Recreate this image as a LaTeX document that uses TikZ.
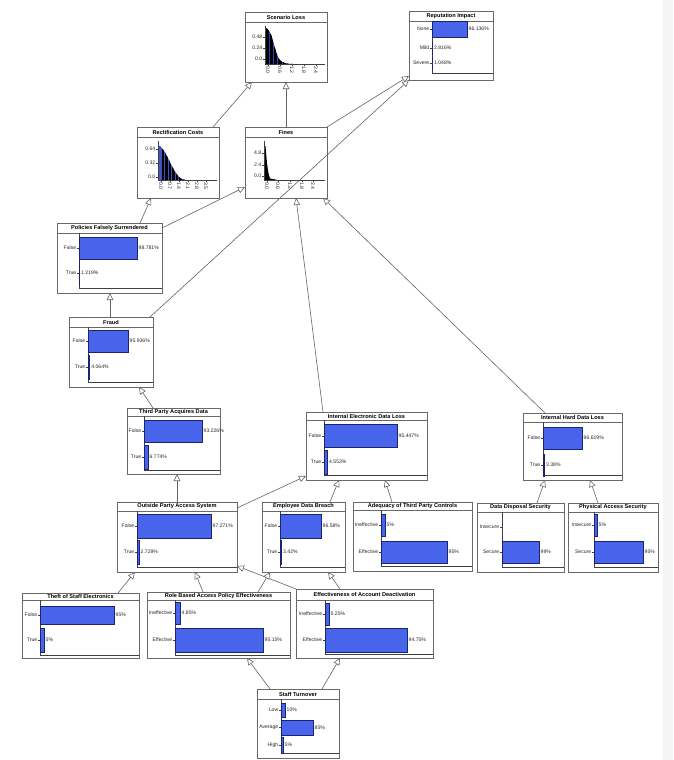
\documentclass[tikz,border=0pt]{standalone}
\usepackage{fontspec}
\setmainfont{Liberation Sans}
\usetikzlibrary{arrows.meta,calc}

\definecolor{barfill}{RGB}{72,100,234}
\definecolor{barline}{RGB}{28,36,112}
\definecolor{framegray}{RGB}{105,105,105}
\definecolor{edgegray}{RGB}{100,100,100}
\definecolor{histblue}{RGB}{48,62,178}

\tikzset{
  bnframe/.style={draw=framegray, line width=0.8pt, fill=white, anchor=north west, inner sep=0pt, outer sep=0pt},
  bnshadow/.style={fill=black!22},
  bntitle/.style={font=\fontsize{5.6}{6}\selectfont\bfseries, inner sep=0pt},
  bnlabel/.style={font=\fontsize{5.1}{5.5}\selectfont, inner sep=0pt, text=black!85},
  bnrule/.style={draw=framegray, line width=0.6pt},
  bnaxis/.style={draw=black!75, line width=0.5pt},
  bnbar/.style={fill=barfill, draw=barline, line width=0.5pt},
  arr/.style={draw=edgegray, line width=0.6pt, -{Triangle[open, fill=white, length=7pt, width=6.5pt]}},
}

% frame of a network node: name, x1, y1, x2, y2, title, y of title rule
\newcommand\bnhead[7]{%
  \fill[bnshadow] ({#2+1},{#3+1}) rectangle ({#4+1},{#5+1});
  \node[bnframe, minimum width={(#4-#2)*1pt}, minimum height={(#5-#3)*1pt}] (#1) at (#2,#3) {};
  \node[bntitle] at ({(#2+#4)/2},{(#3+#7)/2}) {#6};
  \draw[bnrule] (#2,#7) -- (#4,#7);
}
% node with a bar chart: adds axis x and bottom rule y
\newcommand\bnbox[9]{%
  \bnhead{#1}{#2}{#3}{#4}{#5}{#6}{#7}
  \draw[bnaxis] (#8,#7) -- (#8,#9) -- (#4,#9);
}
% one state: axis x, centre y, half height, bar end x, state, value
\newcommand\bnrow[6]{%
  \node[bnlabel, anchor=east] at ({#1-2.6},#2) {#5};
  \draw[bnaxis] ({#1-2},#2) -- (#1,#2);
  \draw[bnbar] (#1,{#2-#3}) rectangle (#4,{#2+#3});
  \node[bnlabel, anchor=west] at ({#4+1.5},#2) {#6};
}

\begin{document}
\begin{tikzpicture}[x=1pt, y=-1pt]
\useasboundingbox (0,0) rectangle (673,760);
\fill[white] (0,0) rectangle (673,760);
\fill[black!4] (663,0) rectangle (673,760);

% ---------- continuous nodes ----------
\bnhead{scen}{245}{12}{327}{82}{Scenario Loss}{22}
\begin{scope}
  \clip (265.5,64) -- (265.5,28) .. controls (268,28) and (270,32) .. (272,37)
        .. controls (274,44) and (276,53) .. (279,59)
        .. controls (282,63) and (287,64) .. (293,64) -- cycle;
  \fill[histblue] (265,20) rectangle (295,64);
  \foreach \x in {266,267.3,...,293} \draw[black, line width=0.35pt] (\x,20) -- (\x,64);
\end{scope}
\draw[bnaxis] (265,26) -- (265,64) -- (325,64);
\foreach \y/\lab in {37/0.48,48/0.24,59/0.0}{
  \draw[bnaxis] (263,\y) -- (265,\y);
  \node[bnlabel, anchor=east] at (262.5,\y) {\lab};}
\foreach \x/\lab in {268/0.0,280/0.6,292/1.2,304/1.8,316/2.4}{
  \draw[bnaxis] (\x,64) -- (\x,66);
  \node[bnlabel, rotate=-90, anchor=west] at (\x,66.5) {\lab};}

\bnhead{rect}{137}{127}{219}{198}{Rectification Costs}{137}
\begin{scope}
  \clip (158.3,180) -- (158.3,145) .. controls (161,146) and (164,150) .. (168,158)
        .. controls (172,166) and (176,175) .. (181,178.5)
        .. controls (183,179.5) and (185,180) .. (187,180) -- cycle;
  \fill[barfill!85!black] (158,140) rectangle (190,180);
  \foreach \x in {162,163.4,...,186} \draw[black, line width=0.35pt] (\x,140) -- (\x,180);
\end{scope}
\draw[bnaxis] (158,141) -- (158,180) -- (217,180);
\foreach \y/\lab in {149/0.64,163/0.32,177/0.0}{
  \draw[bnaxis] (156,\y) -- (158,\y);
  \node[bnlabel, anchor=east] at (155.5,\y) {\lab};}
\foreach \x/\lab in {161/0.0,170/0.7,179/1.4,188/2.1,197/2.8,206/3.5}{
  \draw[bnaxis] (\x,180) -- (\x,182);
  \node[bnlabel, rotate=-90, anchor=west] at (\x,182.5) {\lab};}

\bnhead{fines}{245}{127}{327}{198}{Fines}{137}
\fill[black] (264,180) -- (264,146) -- (265.5,146) .. controls (266.5,158) and (267.5,172) .. (270,178.5)
      -- (276,179.6) -- (276,180) -- cycle;
\draw[bnaxis] (264,141) -- (264,180) -- (325,180);
\foreach \y/\lab in {153/4.8,165/2.4,176/0.0}{
  \draw[bnaxis] (262,\y) -- (264,\y);
  \node[bnlabel, anchor=east] at (261.5,\y) {\lab};}
\foreach \x/\lab in {267/0.0,278/0.6,290/1.2,302/1.8,313/2.4}{
  \draw[bnaxis] (\x,180) -- (\x,182);
  \node[bnlabel, rotate=-90, anchor=west] at (\x,182.5) {\lab};}

% ---------- discrete nodes ----------
\bnbox{rep}{409}{11}{493}{80}{Reputation Impact}{21}{432}{73}
\bnrow{432}{29}{8}{467}{None}{96.136\%}
\bnrow{432}{48}{6}{432.4}{Mild}{2.816\%}
\bnrow{432}{63}{6}{432.4}{Severe}{1.048\%}

\bnbox{pol}{57}{223}{162}{293}{Policies Falsely Surrendered}{233}{79}{288}
\bnrow{79}{248}{11}{137}{False}{98.781\%}
\bnrow{79}{273}{12}{79.5}{True}{1.219\%}

\bnbox{fraud}{69}{317}{153}{387}{Fraud}{327}{88}{382}
\bnrow{88}{341}{11}{128}{False}{95.936\%}
\bnrow{88}{367}{12}{89.7}{True}{4.064\%}

\bnbox{tpad}{127}{408}{220}{474}{Third Party Acquires Data}{416}{144}{470}
\bnrow{144}{431}{11}{202}{False}{93.226\%}
\bnrow{144}{457}{12}{148}{True}{6.774\%}

\bnbox{iedl}{306}{412}{427}{480}{Internal Electronic Data Loss}{420}{324}{475}
\bnrow{324}{436}{11.5}{397}{False}{95.447\%}
\bnrow{324}{462}{12}{327.5}{True}{4.553\%}

\bnbox{ihdl}{523}{413}{622}{480}{Internal Hard Data Loss}{422}{543}{475}
\bnrow{543}{438}{11}{582}{False}{96.619\%}
\bnrow{543}{465}{11}{544.4}{True}{3.38\%}

\bnbox{opas}{117}{502}{237}{572}{Outside Party Access System}{511}{137}{567}
\bnrow{137}{526}{12}{211}{False}{97.271\%}
\bnrow{137}{552}{12}{139}{True}{2.729\%}

\bnbox{edb}{262}{502}{345}{572}{Employee Data Breach}{511}{280}{567}
\bnrow{280}{526}{12}{321}{False}{96.58\%}
\bnrow{280}{552}{12}{281.5}{True}{3.42\%}

\bnbox{adeq}{353}{502}{472}{571}{Adequacy of Third Party Controls}{510}{381}{566}
\bnrow{381}{525}{11}{385}{Ineffective}{5\%}
\bnrow{381}{552}{11}{447}{Effective}{95\%}

\bnbox{dds}{477}{503}{564}{572}{Data Disposal Security}{512}{502}{567}
\node[bnlabel, anchor=east] at (499.4,527) {Insecure};
\draw[bnaxis] (500,527) -- (502,527);
\bnrow{502}{552}{11}{539}{Secure}{99\%}

\bnbox{pas}{568}{503}{658}{572}{Physical Access Security}{512}{594}{567}
\bnrow{594}{525}{11}{597}{Insecure}{5\%}
\bnrow{594}{552}{11}{643}{Secure}{95\%}

\bnbox{theft}{22}{593}{139}{658}{Theft of Staff Electronics}{600}{40}{655}
\bnrow{40}{615}{9}{114}{False}{95\%}
\bnrow{40}{640}{12}{44}{True}{5\%}

\bnbox{rbap}{147}{592}{290}{658}{Role Based Access Policy Effectiveness}{600}{175}{655}
\bnrow{175}{613}{11}{180}{Ineffective}{4.85\%}
\bnrow{175}{640}{12}{263}{Effective}{95.15\%}

\bnbox{ead}{296}{589}{433}{658}{Effectiveness of Account Deactivation}{600}{325}{654}
\bnrow{325}{614}{11}{329}{Ineffective}{5.25\%}
\bnrow{325}{640}{12}{407}{Effective}{94.75\%}

\bnbox{staff}{257}{689}{339}{758}{Staff Turnover}{699}{281}{753}
\bnrow{281}{710}{7}{285}{Low}{10\%}
\bnrow{281}{727.5}{7.5}{313}{Average}{85\%}
\bnrow{281}{745}{8}{283}{High}{5\%}

% ---------- links ----------
\draw[arr] ($(rect.north west)+(76,0)$) -- ($(scen.south west)+(7,0)$);
\draw[arr] (fines.north) -- (scen.south);
\draw[arr] (fines.north east) -- ($(rep.south west)+(0,-4)$);
\draw[arr] ($(fraud.north east)+(-3,0)$) -- (rep.south west);
\draw[arr] ($(pol.north west)+(83,0)$) -- ($(rect.south west)+(14,0)$);
\draw[arr] ($(pol.north east)+(0,5)$) -- ($(fines.south west)+(0,-11)$);
\draw[arr] ($(fraud.north west)+(41,0)$) -- ($(pol.south west)+(53,0)$);
\draw[arr] ($(tpad.north west)+(26,0)$) -- ($(fraud.south west)+(70,0)$);
\draw[arr] ($(iedl.north west)+(17,0)$) -- ($(fines.south west)+(51,0)$);
\draw[arr] ($(ihdl.north west)+(22,0)$) -- ($(fines.south east)+(-4,0)$);
\draw[arr] ($(opas.north west)+(60,0)$) -- ($(tpad.south west)+(50,0)$);
\draw[arr] ($(opas.north east)+(0,6)$) -- ($(iedl.south west)+(0,-4)$);
\draw[arr] ($(edb.north west)+(68,0)$) -- ($(iedl.south west)+(33,0)$);
\draw[arr] ($(adeq.north west)+(39,0)$) -- ($(iedl.south west)+(79,0)$);
\draw[arr] ($(dds.north west)+(60,0)$) -- ($(ihdl.south west)+(22,0)$);
\draw[arr] ($(pas.north west)+(30,0)$) -- ($(ihdl.south west)+(67,0)$);
\draw[arr] ($(theft.north west)+(96,0)$) -- ($(opas.south west)+(18,0)$);
\draw[arr] ($(rbap.north west)+(56,0)$) -- ($(opas.south west)+(78,0)$);
\draw[arr] (ead.north west) -- ($(opas.south east)+(0,-6)$);
\draw[arr] ($(rbap.north west)+(111,0)$) -- ($(edb.south west)+(8,0)$);
\draw[arr] ($(ead.north west)+(44,0)$) -- ($(edb.south west)+(66,0)$);
\draw[arr] ($(staff.north west)+(13,0)$) -- ($(rbap.south west)+(100,0)$);
\draw[arr] ($(staff.north west)+(65,0)$) -- ($(ead.south west)+(44,0)$);
\end{tikzpicture}
\end{document}
